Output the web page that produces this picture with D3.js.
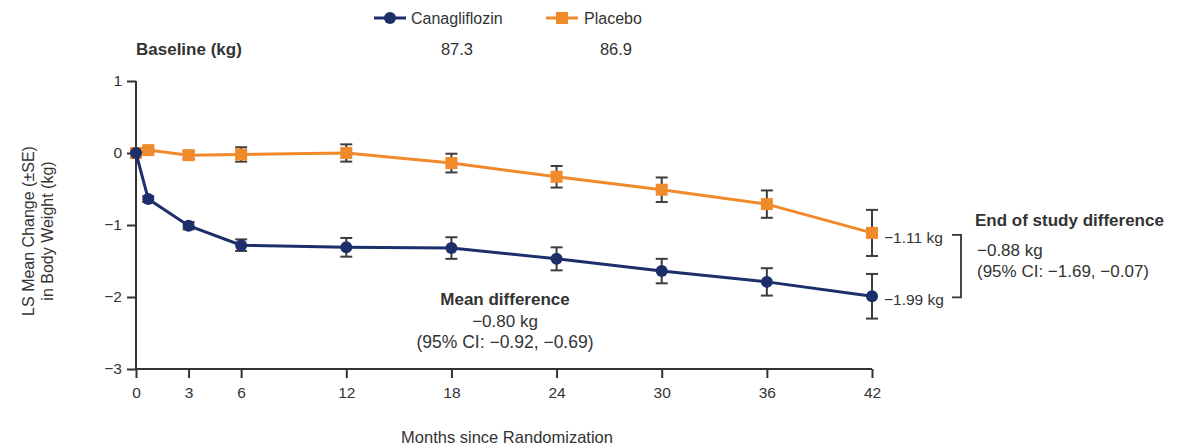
<!DOCTYPE html>
<html><head><meta charset="utf-8">
<script src="https://cdn.jsdelivr.net/npm/d3@7"></script>
<style>
body{margin:0;background:#fff;}
svg{font-family:"Liberation Sans",Arial,Helvetica,sans-serif;}
</style></head><body>
<svg id="c" width="1181" height="447"></svg>
<script>
const months = [0, 0.7, 3, 6, 12, 18, 24, 30, 36, 42];
const canaMean = [0, -0.64, -1.01, -1.28, -1.31, -1.32, -1.47, -1.64, -1.79, -1.99];
const canaSE   = [0, 0.04, 0.05, 0.08, 0.13, 0.15, 0.16, 0.17, 0.19, 0.31];
const placMean = [0, 0.04, -0.03, -0.02, 0.0, -0.14, -0.33, -0.51, -0.71, -1.11];
const placSE   = [0, 0.03, 0.05, 0.10, 0.12, 0.13, 0.15, 0.17, 0.19, 0.32];
const xTicks = [0, 3, 6, 12, 18, 24, 30, 36, 42];
const yTicks = [1, 0, -1, -2, -3];
const seriesNames = ["Canagliflozin", "Placebo"];
const baseline = ["87.3", "86.9"];

const svg = d3.select("#c");
const x = d3.scaleLinear().domain([0, 42]).range([136, 872]);
const y = d3.scaleLinear().domain([-3, 1]).range([369, 81]);
const txt = "#333";
const navy = "#1d2f6b", orange = "#f08a2a", errc = "#3d3d3d";

// axes
const xa = svg.append("g").attr("transform", `translate(0,${y(-3)})`)
  .call(d3.axisBottom(x).tickValues(xTicks).tickSize(9).tickPadding(9).tickFormat(d3.format("d")));
const ya = svg.append("g").attr("transform", `translate(${x(0)},0)`)
  .call(d3.axisLeft(y).tickValues(yTicks).tickSize(9).tickPadding(5).tickFormat(d => d < 0 ? "\u2212" + Math.abs(d) : d));
[xa, ya].forEach(a => {
  a.select(".domain").attr("stroke", "#333").attr("stroke-width", 2);
  a.selectAll(".tick line").attr("stroke", "#333").attr("stroke-width", 2);
  a.selectAll(".tick text").attr("fill", txt).style("font-size", "15.5px");
});
xa.select(".domain").attr("d", `M${x(0)},0H${x(42)}`);
ya.select(".domain").attr("d", `M0,${y(1)}V${y(-3)}`);

// y axis title
const yt = svg.append("text").attr("transform", `translate(34,231) rotate(-90)`)
  .attr("text-anchor", "middle").attr("fill", txt).style("font-size", "16px");
yt.append("tspan").attr("x", 0).attr("dy", 0).text("LS Mean Change (\u00b1SE)");
yt.append("tspan").attr("x", 0).attr("dy", 19).text("in Body Weight (kg)");

svg.append("text").attr("x", 507).attr("y", 443).attr("text-anchor", "middle")
  .attr("fill", txt).style("font-size", "16.5px").text("Months since Randomization");

function drawSeries(mean, se, color, shape) {
  const data = months.map((m, i) => ({m, v: mean[i], s: se[i]}));
  svg.append("path").datum(data)
    .attr("d", d3.line().x(d => x(d.m)).y(d => y(d.v)))
    .attr("fill", "none").attr("stroke", color).attr("stroke-width", 3);
  const eb = svg.append("g").attr("stroke", errc).attr("stroke-width", 2);
  data.filter(d => d.s > 0).forEach(d => {
    eb.append("line").attr("x1", x(d.m)).attr("x2", x(d.m)).attr("y1", y(d.v + d.s)).attr("y2", y(d.v - d.s));
    eb.append("line").attr("x1", x(d.m) - 6).attr("x2", x(d.m) + 6).attr("y1", y(d.v + d.s)).attr("y2", y(d.v + d.s));
    eb.append("line").attr("x1", x(d.m) - 6).attr("x2", x(d.m) + 6).attr("y1", y(d.v - d.s)).attr("y2", y(d.v - d.s));
  });
  const g = svg.append("g");
  data.forEach(d => {
    if (shape === "circle") g.append("circle").attr("cx", x(d.m)).attr("cy", y(d.v)).attr("r", 6).attr("fill", color);
    else g.append("rect").attr("x", x(d.m) - 6).attr("y", y(d.v) - 6).attr("width", 12).attr("height", 12).attr("fill", color);
  });
}
drawSeries(placMean, placSE, orange, "square");
drawSeries(canaMean, canaSE, navy, "circle");

// legend
const leg = [{n: seriesNames[0], c: navy, s: "circle", x0: 374, tx: 411, bx: 457},
             {n: seriesNames[1], c: orange, s: "square", x0: 546, tx: 584, bx: 616}];
leg.forEach((l, i) => {
  svg.append("line").attr("x1", l.x0).attr("x2", l.x0 + 32).attr("y1", 18).attr("y2", 18).attr("stroke", l.c).attr("stroke-width", 3);
  if (l.s === "circle") svg.append("circle").attr("cx", l.x0 + 16).attr("cy", 18).attr("r", 6).attr("fill", l.c);
  else svg.append("rect").attr("x", l.x0 + 10).attr("y", 12).attr("width", 12).attr("height", 12).attr("fill", l.c);
  svg.append("text").attr("x", l.tx).attr("y", 24).attr("fill", txt).style("font-size", "16px").text(l.n);
  svg.append("text").attr("x", l.bx).attr("y", 55).attr("text-anchor", "middle").attr("fill", txt).style("font-size", "16.5px").text(baseline[i]);
});
svg.append("text").attr("x", 136).attr("y", 55).attr("fill", txt).style("font-size", "17px").style("font-weight", "bold").text("Baseline (kg)");

// end labels
const fmtKg = v => "\u2212" + Math.abs(v).toFixed(2) + " kg";
const lastP = placMean[placMean.length - 1], lastC = canaMean[canaMean.length - 1];
svg.append("text").attr("x", 884).attr("y", y(lastP) + 10).attr("fill", txt).style("font-size", "15.5px").text(fmtKg(lastP));
svg.append("text").attr("x", 884).attr("y", y(lastC) + 9).attr("fill", txt).style("font-size", "15.5px").text(fmtKg(lastC));
svg.append("path").attr("d", `M952,${y(lastP) + 2}H961V${y(lastC) + 1}H952`).attr("fill", "none").attr("stroke", "#333").attr("stroke-width", 1.8);

svg.append("text").attr("x", 975).attr("y", 226).attr("fill", txt).style("font-size", "17px").style("font-weight", "bold").text("End of study difference");
svg.append("text").attr("x", 977).attr("y", 256).attr("fill", txt).style("font-size", "17px").text("\u22120.88 kg");
svg.append("text").attr("x", 977).attr("y", 277).attr("fill", txt).style("font-size", "17px").text("(95% CI: \u22121.69, \u22120.07)");

// mean difference
svg.append("text").attr("x", 505).attr("y", 305).attr("text-anchor", "middle").attr("fill", txt).style("font-size", "17px").style("font-weight", "bold").text("Mean difference");
svg.append("text").attr("x", 505).attr("y", 327).attr("text-anchor", "middle").attr("fill", txt).style("font-size", "17px").text("\u22120.80 kg");
svg.append("text").attr("x", 505).attr("y", 348).attr("text-anchor", "middle").attr("fill", txt).style("font-size", "17.5px").text("(95% CI: \u22120.92, \u22120.69)");
</script>
</body></html>
